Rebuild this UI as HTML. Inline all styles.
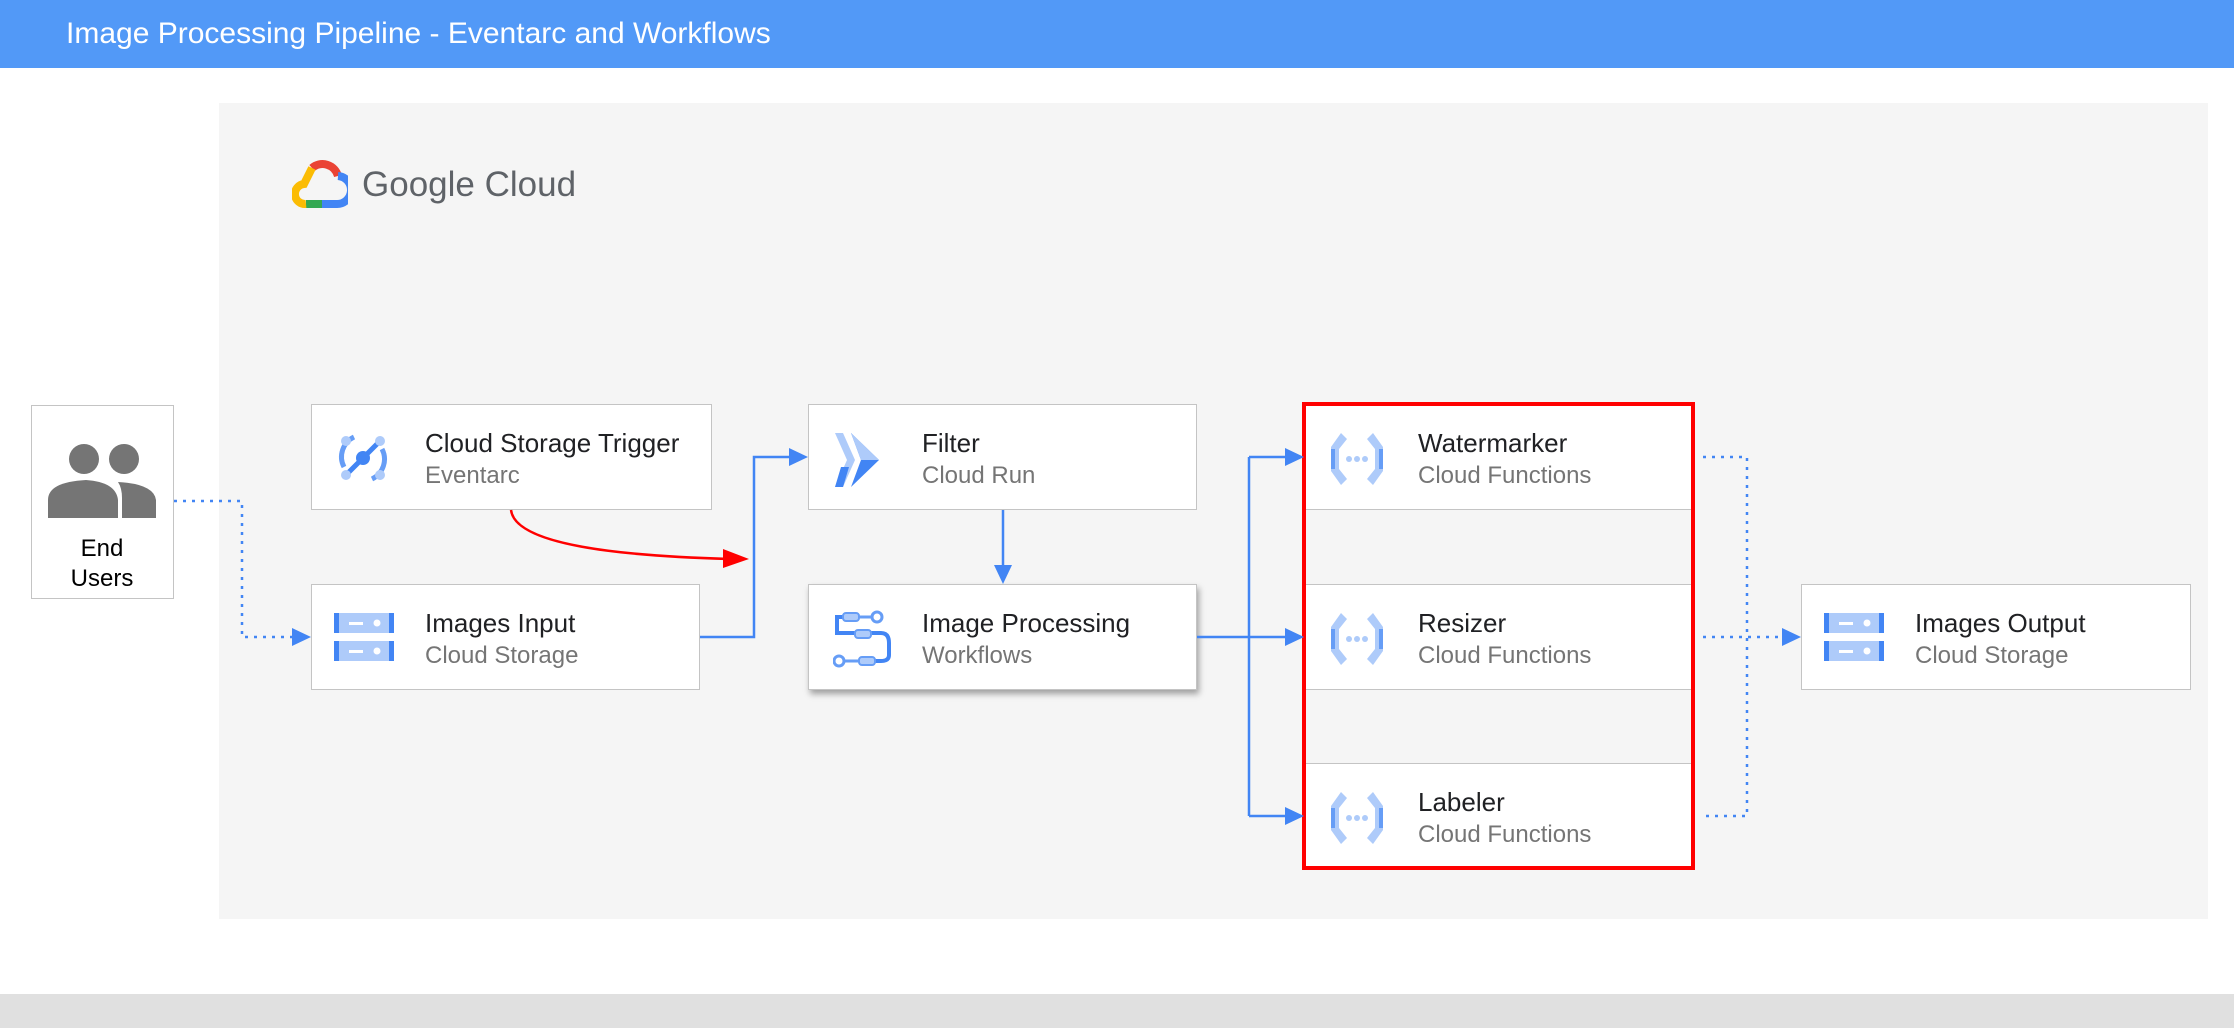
<!DOCTYPE html>
<html><head><meta charset="utf-8"><style>
*{margin:0;padding:0;box-sizing:border-box}
body{width:2234px;height:1028px;background:#fff;position:relative;overflow:hidden;font-family:"Liberation Sans",sans-serif}
.hdr{position:absolute;left:0;top:0;width:2234px;height:68px;background:#5299f7;color:#fff;font-size:30px;line-height:68px;padding-left:66px}
.panel{position:absolute;left:219px;top:103px;width:1989px;height:816px;background:#f5f5f5}
.foot{position:absolute;left:0;top:994px;width:2234px;height:34px;background:#e0e0e0}
.box{position:absolute;background:#fff;border:1.5px solid #c4c4c4;width:389px;height:106px}
.box .t{position:absolute;left:113px;top:23px;font-size:26px;color:#202124;white-space:nowrap}
.box .s{position:absolute;left:113px;top:57px;font-size:24px;color:#757575;white-space:nowrap}
.box svg{position:absolute;left:22px;top:24px}
</style></head><body>
<div class="hdr">Image Processing Pipeline - Eventarc and Workflows</div>
<div class="panel"></div>
<div class="foot"></div>

<svg style="position:absolute;left:292px;top:160px" width="56" height="50" viewBox="0 0 56 50">
<path d="M20 8 A16 16 0 0 1 46 16" stroke="#ea4335" stroke-width="8" fill="none"/>
<path d="M46 16 A12 12 0 0 1 44 44 L30 44" stroke="#4285f4" stroke-width="8" fill="none"/>
<path d="M30 44 L14 44" stroke="#34a853" stroke-width="8" fill="none"/>
<path d="M14 44 A10 10 0 0 1 12 24 L20 8" stroke="#fbbc04" stroke-width="8" fill="none"/>
</svg>
<div style="position:absolute;left:362px;top:165px;font-size:35px;color:#5f6368">Google Cloud</div>

<div class="box" style="left:31px;top:405px;width:143px;height:194px">
<svg style="left:14px;top:34px" width="112" height="78" viewBox="0 0 112 78">
<circle cx="38" cy="19" r="15" fill="#757575"/><circle cx="78" cy="19" r="15" fill="#757575"/>
<path d="M2 78 V60 Q2 42 40 40 Q70 42 72 60 V78Z" fill="#757575"/>
<path d="M76 78 V58 Q76 48 72 42 Q108 44 110 60 V78Z" fill="#757575"/>
</svg>
<div style="position:absolute;left:0;width:140px;top:128px;text-align:center;font-size:24px;line-height:30px;color:#000">End<br>Users</div>
</div>

<div class="box" style="left:311px;top:404px;width:401px">
<svg style="left:22px;top:24px" width="58" height="58" viewBox="0 0 58 58">
<path d="M10 38 A22 22 0 0 1 20 8" stroke="#669df6" stroke-width="5" fill="none"/>
<path d="M48 20 A22 22 0 0 1 38 50" stroke="#669df6" stroke-width="5" fill="none"/>
<path d="M14 44 L44 14" stroke="#4285f4" stroke-width="5"/>
<circle cx="29" cy="29" r="7" fill="#4285f4"/>
<circle cx="12" cy="12" r="5" fill="#aecbfa"/><circle cx="46" cy="12" r="5" fill="#aecbfa"/>
<circle cx="12" cy="46" r="5" fill="#aecbfa"/><circle cx="46" cy="46" r="5" fill="#aecbfa"/>
</svg>
<div class="t">Cloud Storage Trigger</div><div class="s">Eventarc</div></div>

<div class="box" style="left:311px;top:584px">
<svg style="left:22px;top:28px" width="60" height="50" viewBox="0 0 60 50">
<rect x="0" y="0" width="60" height="20" fill="#aecbfa"/><rect x="0" y="0" width="5" height="20" fill="#4285f4"/><rect x="55" y="0" width="5" height="20" fill="#4285f4"/>
<rect x="15" y="9" width="14" height="3" fill="#fff"/><circle cx="43" cy="10" r="3.5" fill="#fff"/>
<rect x="0" y="28" width="60" height="20" fill="#aecbfa"/><rect x="0" y="28" width="5" height="20" fill="#4285f4"/><rect x="55" y="28" width="5" height="20" fill="#4285f4"/>
<rect x="15" y="37" width="14" height="3" fill="#fff"/><circle cx="43" cy="38" r="3.5" fill="#fff"/>
</svg>
<div class="t">Images Input</div><div class="s">Cloud Storage</div></div>

<div class="box" style="left:808px;top:404px">
<svg style="left:26px;top:28px" width="56" height="54" viewBox="0 0 56 54">
<polygon points="0,0 12,27 0,54 8,54 20,27 8,0" fill="#aecbfa"/>
<polygon points="16,0 44,27 16,54 26,27" fill="#4285f4"/>
<polygon points="16,0 44,27 26,27" fill="#aecbfa"/>
<polygon points="0,54 8,54 14,34 6,34" fill="#4285f4"/>
</svg>
<div class="t">Filter</div><div class="s">Cloud Run</div></div>

<div class="box" style="left:808px;top:584px;box-shadow:2px 4px 6px rgba(0,0,0,0.35)">
<svg style="left:24px;top:24px" width="60" height="60" viewBox="0 0 60 60">
<path d="M12 8 H4 V24 H48 Q56 24 56 34 V46 Q56 52 48 52 H30" stroke="#4285f4" stroke-width="4" fill="none"/>
<rect x="10" y="4" width="16" height="8" rx="3" fill="#aecbfa" stroke="#669df6" stroke-width="2"/>
<line x1="26" y1="8" x2="38" y2="8" stroke="#669df6" stroke-width="3"/><circle cx="44" cy="8" r="5" fill="#fff" stroke="#669df6" stroke-width="3"/>
<rect x="22" y="21" width="16" height="8" rx="3" fill="#aecbfa" stroke="#669df6" stroke-width="2"/>
<rect x="26" y="48" width="16" height="8" rx="3" fill="#aecbfa" stroke="#669df6" stroke-width="2"/>
<line x1="10" y1="52" x2="26" y2="52" stroke="#669df6" stroke-width="3"/><circle cx="6" cy="52" r="5" fill="#fff" stroke="#669df6" stroke-width="3"/>
</svg>
<div class="t">Image Processing</div><div class="s">Workflows</div></div>

<div class="box" style="left:1304px;top:404px"><svg style="left:22px;top:24px" width="60" height="60" viewBox="0 0 60 60"><path d="M14 4 L4 18 V42 L14 56 L20 50 L12 40 V20 L20 10Z" fill="#aecbfa"/><path d="M46 4 L56 18 V42 L46 56 L40 50 L48 40 V20 L40 10Z" fill="#aecbfa"/><rect x="4" y="20" width="4" height="20" fill="#669df6"/><rect x="52" y="20" width="4" height="20" fill="#669df6"/><circle cx="22" cy="30" r="3" fill="#aecbfa"/><circle cx="30" cy="30" r="3" fill="#aecbfa"/><circle cx="38" cy="30" r="3" fill="#aecbfa"/></svg>
<div class="t">Watermarker</div><div class="s">Cloud Functions</div></div>
<div class="box" style="left:1304px;top:584px"><svg style="left:22px;top:24px" width="60" height="60" viewBox="0 0 60 60"><path d="M14 4 L4 18 V42 L14 56 L20 50 L12 40 V20 L20 10Z" fill="#aecbfa"/><path d="M46 4 L56 18 V42 L46 56 L40 50 L48 40 V20 L40 10Z" fill="#aecbfa"/><rect x="4" y="20" width="4" height="20" fill="#669df6"/><rect x="52" y="20" width="4" height="20" fill="#669df6"/><circle cx="22" cy="30" r="3" fill="#aecbfa"/><circle cx="30" cy="30" r="3" fill="#aecbfa"/><circle cx="38" cy="30" r="3" fill="#aecbfa"/></svg>
<div class="t">Resizer</div><div class="s">Cloud Functions</div></div>
<div class="box" style="left:1304px;top:763px"><svg style="left:22px;top:24px" width="60" height="60" viewBox="0 0 60 60"><path d="M14 4 L4 18 V42 L14 56 L20 50 L12 40 V20 L20 10Z" fill="#aecbfa"/><path d="M46 4 L56 18 V42 L46 56 L40 50 L48 40 V20 L40 10Z" fill="#aecbfa"/><rect x="4" y="20" width="4" height="20" fill="#669df6"/><rect x="52" y="20" width="4" height="20" fill="#669df6"/><circle cx="22" cy="30" r="3" fill="#aecbfa"/><circle cx="30" cy="30" r="3" fill="#aecbfa"/><circle cx="38" cy="30" r="3" fill="#aecbfa"/></svg>
<div class="t">Labeler</div><div class="s">Cloud Functions</div></div>
<div style="position:absolute;left:1302px;top:402px;width:393px;height:468px;border:4px solid #ff0000"></div>

<div class="box" style="left:1801px;top:584px;width:390px">
<svg style="left:22px;top:28px" width="60" height="50" viewBox="0 0 60 50">
<rect x="0" y="0" width="60" height="20" fill="#aecbfa"/><rect x="0" y="0" width="5" height="20" fill="#4285f4"/><rect x="55" y="0" width="5" height="20" fill="#4285f4"/>
<rect x="15" y="9" width="14" height="3" fill="#fff"/><circle cx="43" cy="10" r="3.5" fill="#fff"/>
<rect x="0" y="28" width="60" height="20" fill="#aecbfa"/><rect x="0" y="28" width="5" height="20" fill="#4285f4"/><rect x="55" y="28" width="5" height="20" fill="#4285f4"/>
<rect x="15" y="37" width="14" height="3" fill="#fff"/><circle cx="43" cy="38" r="3.5" fill="#fff"/>
</svg>
<div class="t">Images Output</div><div class="s">Cloud Storage</div></div>

<svg style="position:absolute;left:0;top:0" width="2234" height="1028">
<g fill="none" stroke="#4285f4" stroke-width="2.5">
<path d="M174 501 H242 V637 H296" stroke-dasharray="3 6"/>
<path d="M700 637 H754 V457 H794"/>
<path d="M1003 510 V570"/>
<path d="M1197 637 H1249 M1249 457 V816 M1249 457 H1290 M1249 637 H1290 M1249 816 H1290"/>
<path d="M1703 457 H1747 V816 H1703 M1703 637 H1787" stroke-dasharray="3 6"/>
</g>
<g fill="#4285f4">
<polygon points="311,637 292,628 292,646"/>
<polygon points="808,457 789,448 789,466"/>
<polygon points="1003,584 994,565 1012,565"/>
<polygon points="1304,457 1285,448 1285,466"/>
<polygon points="1304,637 1285,628 1285,646"/>
<polygon points="1304,816 1285,807 1285,825"/>
<polygon points="1801,637 1782,628 1782,646"/>
</g>
<path d="M511 510 C515 545 620 556 730 559" stroke="#ff0000" stroke-width="2.5" fill="none"/>
<polygon points="749,559 723,549 723,568" fill="#ff0000"/>
</svg>
</body></html>
